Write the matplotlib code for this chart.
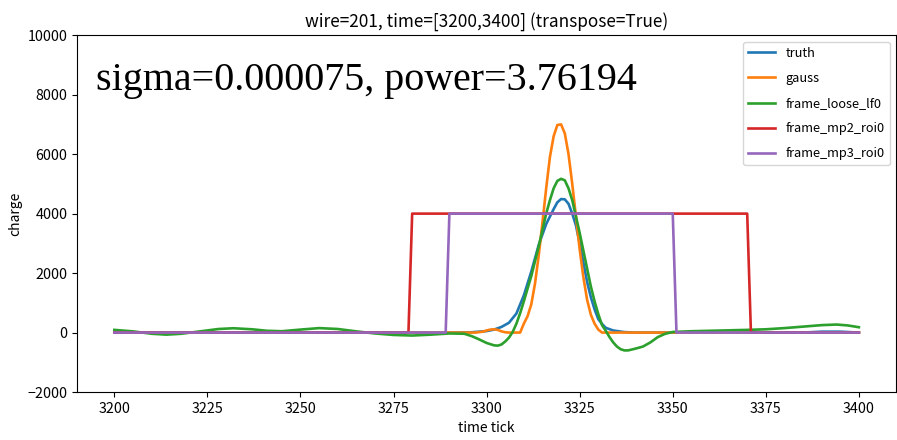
import matplotlib
matplotlib.use('Agg')
import matplotlib.pyplot as plt

plt.rcParams['font.family'] = ['Noto Sans CJK JP', 'DejaVu Sans']
plt.rcParams['lines.linewidth'] = 1.9

# truth
truth_t = [3200, 3290, 3296, 3300, 3302, 3304, 3306, 3308, 3310, 3312, 3314, 3316, 3318, 3319,
           3320, 3321, 3322, 3323, 3324, 3325, 3326, 3327, 3328, 3329, 3330, 3331, 3332, 3334,
           3337, 3340, 3385, 3390, 3395, 3400]
truth_v = [0, 0, 10, 50, 100, 190, 330, 640, 1250, 2050, 2950, 3650, 4150, 4380,
           4490, 4480, 4330, 4000, 3600, 3000, 2350, 1700, 1190, 780, 450, 290, 160, 70,
           15, 0, 0, 30, 30, 0]

# gauss
gauss_t = [3200, 3297, 3299, 3300, 3301, 3302, 3303, 3304, 3305, 3306, 3309,
           3310, 3311, 3312, 3313, 3314, 3315, 3316, 3317, 3318, 3319, 3320, 3321,
           3322, 3323, 3324, 3325, 3326, 3327, 3328, 3329, 3330, 3331, 3400]
gauss_v = [0, 0, 30, 70, 100, 110, 90, 40, 10, 0, 0,
           300, 550, 950, 1650, 2600, 3700, 4850, 5900, 6600, 6980, 7000, 6700,
           6000, 5000, 3900, 2800, 1850, 1100, 600, 300, 100, 0, 0]

# frame_loose_lf0
loose_t = [3200, 3205, 3210, 3214, 3218, 3223, 3228, 3232, 3237, 3241, 3245, 3250, 3255,
           3260, 3265, 3270, 3275, 3280, 3285, 3290, 3294, 3296, 3298, 3300, 3302, 3303,
           3304, 3305, 3306, 3307, 3308, 3309, 3310, 3311, 3312, 3313, 3314, 3315, 3316,
           3317, 3318, 3319, 3320, 3321, 3322, 3323, 3324, 3325, 3326, 3327, 3328, 3329,
           3330, 3331, 3332, 3333, 3334, 3335, 3336, 3337, 3338, 3340, 3342, 3344, 3346,
           3348, 3350, 3355, 3360, 3365, 3370, 3375, 3380, 3385, 3390, 3394, 3397, 3400]
loose_v = [90, 40, -40, -70, -40, 40, 120, 145, 110, 60, 45, 100, 150,
           120, 40, -30, -80, -100, -70, -30, -40, -120, -230, -350, -430, -440,
           -400, -300, -170, 20, 300, 650, 1050, 1480, 1900, 2400, 2900, 3450, 4000,
           4450, 4850, 5100, 5170, 5120, 4850, 4450, 3900, 3350, 2750, 2150, 1550, 1050,
           620, 250, 60, -150, -330, -470, -560, -600, -600, -540, -470, -330, -150,
           -40, 20, 45, 60, 75, 90, 110, 150, 200, 250, 270, 240, 180]

# frame_mp2_roi0
mp2_t = [3200, 3279, 3280, 3370, 3371, 3400]
mp2_v = [0, 0, 4000, 4000, 0, 0]

# frame_mp3_roi0
mp3_t = [3200, 3289, 3290, 3350, 3351, 3400]
mp3_v = [0, 0, 4000, 4000, 0, 0]

fig = plt.figure(figsize=(8.97, 4.40), dpi=100)
ax = fig.add_axes([0.086, 0.109, 0.913, 0.811])

ax.plot(truth_t, truth_v, label='truth')
ax.plot(gauss_t, gauss_v, label='gauss')
ax.plot(loose_t, loose_v, label='frame_loose_lf0')
ax.plot(mp2_t, mp2_v, label='frame_mp2_roi0')
ax.plot(mp3_t, mp3_v, label='frame_mp3_roi0')

ax.set_xlim(3190, 3410)
ax.set_ylim(-2000, 10000)
ax.set_xticks(range(3200, 3401, 25))
ax.set_yticks(range(-2000, 10001, 2000))
ax.tick_params(labelsize=10.3)
ax.set_xlabel('time tick')
ax.set_ylabel('charge')
ax.set_title('wire=201, time=[3200,3400] (transpose=True)', fontsize=12.4)
ax.legend(loc='upper right', fontsize=9.2, labelspacing=0.95, handlelength=2.1)

ax.text(0.023, 0.846, 'sigma=0.000075, power=3.76194', transform=ax.transAxes,
        family='Liberation Serif', fontsize=28.8)

fig.savefig('out.png', dpi=100)
